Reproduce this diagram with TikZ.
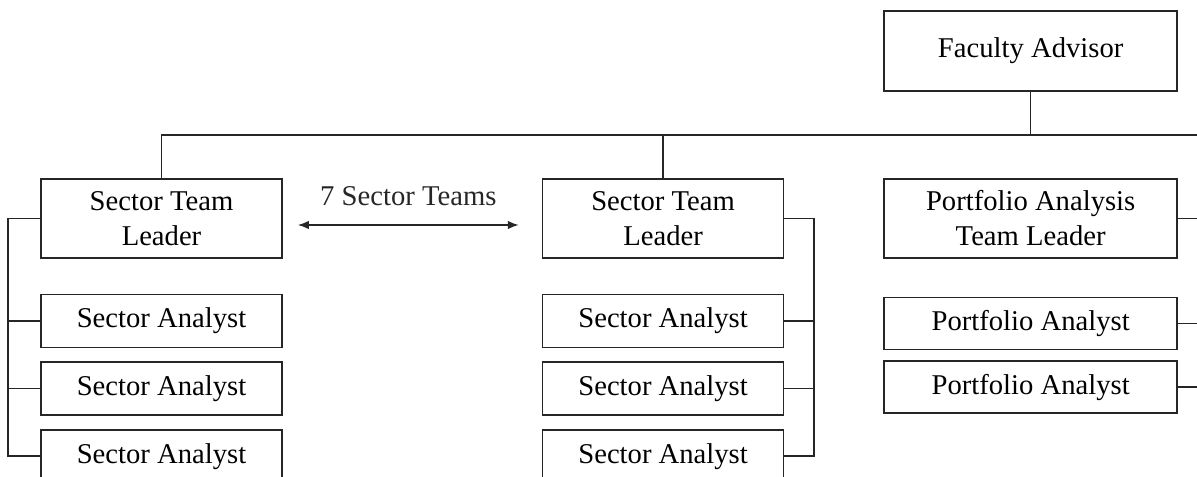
\documentclass[tikz,border=0pt]{standalone}
\usepackage{fontspec}
\setmainfont{Liberation Serif}
\usetikzlibrary{arrows.meta, positioning}
\tikzset{
  % Box styles
  leadbox/.style={rectangle, draw=black!85, line width=0.9pt, fill=white, minimum width=4.82cm, minimum height=1.58cm, inner sep=0pt, align=center, font=\fontsize{16.3}{19.9}\selectfont},
  analystbox/.style={leadbox, minimum height=1.06cm},
  wideleadbox/.style={leadbox, minimum width=5.86cm},
  wideanalystbox/.style={leadbox, minimum width=5.86cm, minimum height=1.04cm},
  % Line styles
  link/.style={draw=black!85, line width=0.9pt},
  dblarrow/.style={{Latex[length=0.22cm,width=0.17cm]}-{Latex[length=0.22cm,width=0.17cm]}, black!85, line width=0.9pt}
}
\begin{document}
\begin{tikzpicture}
  \useasboundingbox (0,0) rectangle (23.94,-9.54);
  % Team leaders and advisor
  \node[leadbox] (stl1) at (3.23,-4.37) {Sector Team\\Leader};
  \node[leadbox, right=5.18cm of stl1] (stl2) {Sector Team\\Leader};
  \node[wideleadbox, right=1.98cm of stl2] (patl) {Portfolio Analysis\\Team Leader};
  \node[wideleadbox, minimum height=1.6cm, above=1.73cm of patl] (fa) {Faculty Advisor};

  % Analysts
  \node[analystbox, below=0.7cm of stl1] (sa1) {Sector Analyst};
  \node[analystbox, below=0.26cm of sa1] (sa2) {Sector Analyst};
  \node[analystbox, below=0.26cm of sa2] (sa3) {Sector Analyst};
  \node[analystbox, below=0.7cm of stl2] (sb1) {Sector Analyst};
  \node[analystbox, below=0.26cm of sb1] (sb2) {Sector Analyst};
  \node[analystbox, below=0.26cm of sb2] (sb3) {Sector Analyst};
  \node[wideanalystbox, below=0.76cm of patl] (pa1) {Portfolio Analyst};
  \node[wideanalystbox, below=0.2cm of pa1] (pa2) {Portfolio Analyst};

  % Top bar
  \coordinate (bar) at (23.94,-2.7);
  \draw[link] (fa.south) -- (fa.south |- bar);
  \draw[link] (stl1.north) -- (stl1.north |- bar) -- (bar);
  \draw[link] (stl2.north) -- (stl2.north |- bar);

  % Side brackets
  \coordinate (lbar) at (0.16,0);
  \coordinate (mbar) at (16.28,0);
  \coordinate (redge) at (23.94,0);
  \draw[link] (stl1.west) -- (stl1.west -| lbar) -- (sa3.west -| lbar) -- (sa3.west);
  \draw[link] (sa1.west) -- (sa1.west -| lbar);
  \draw[link] (sa2.west) -- (sa2.west -| lbar);
  \draw[link] (stl2.east) -- (stl2.east -| mbar) -- (sb3.east -| mbar) -- (sb3.east);
  \draw[link] (sb1.east) -- (sb1.east -| mbar);
  \draw[link] (sb2.east) -- (sb2.east -| mbar);
  \draw[link] (patl.east) -- (patl.east -| redge);
  \draw[link] (pa1.east) -- (pa1.east -| redge);
  \draw[link] (pa2.east) -- (pa2.east -| redge);

  % Team count
  \draw[dblarrow] ([xshift=0.3cm,yshift=-0.13cm]stl1.east) -- ([xshift=-0.46cm,yshift=-0.13cm]stl2.west)
    node[midway, above=0.25cm, font=\fontsize{16.3}{19.9}\selectfont] (teams) {7 Sector Teams};
\end{tikzpicture}
\end{document}
